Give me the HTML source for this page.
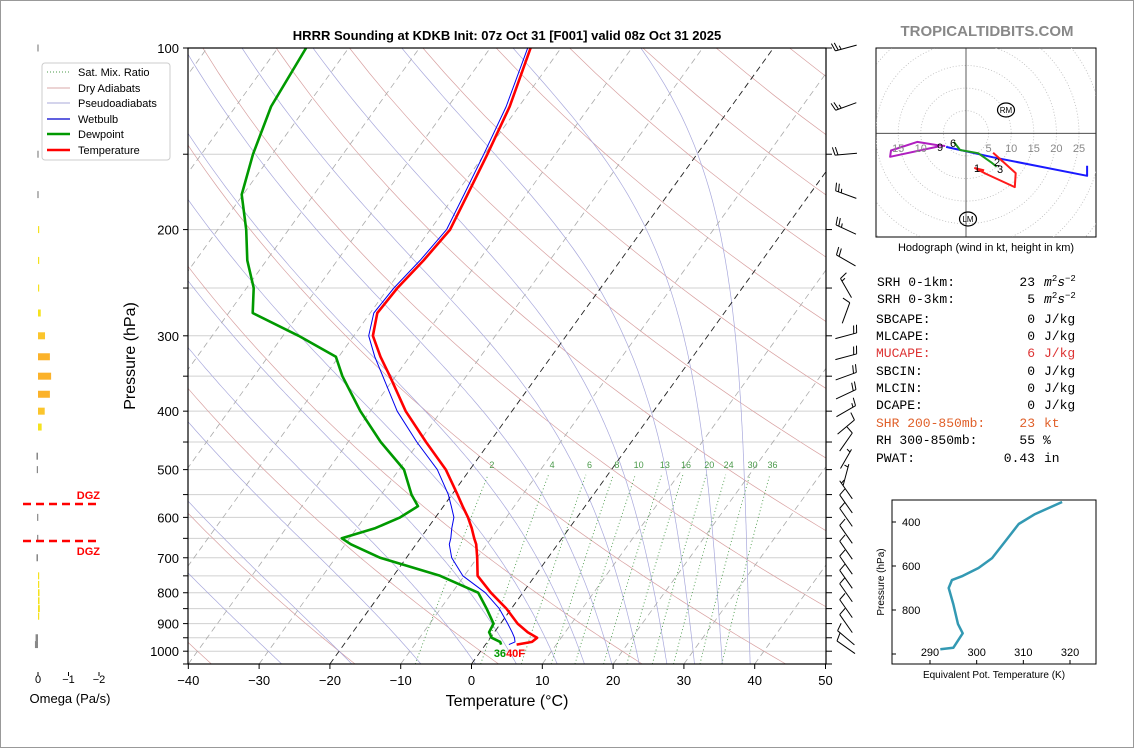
<!DOCTYPE html>
<html><head><meta charset="utf-8">
<style>
html,body{margin:0;padding:0;background:#fff;}
svg{display:block;font-family:"Liberation Sans","DejaVu Sans",sans-serif;}
.mono{font-family:"Liberation Mono","DejaVu Sans Mono",monospace;}
</style></head>
<body>
<svg id="fig" width="1134" height="748" viewBox="0 0 1134 748" xmlns="http://www.w3.org/2000/svg">
<defs>
<clipPath id="plotClip"><rect x="188" y="48" width="638" height="616"/></clipPath>
<clipPath id="hodoClip"><rect x="876" y="48" width="220" height="189"/></clipPath>
</defs>
<rect x="0.5" y="0.5" width="1133" height="747" fill="#fff" stroke="#999"/>
<text x="507" y="40" text-anchor="middle" font-size="13" font-weight="bold">HRRR Sounding at KDKB Init: 07z Oct 31 [F001] valid 08z Oct 31 2025</text>
<text x="987" y="36" text-anchor="middle" font-size="15" font-weight="bold" fill="#888">TROPICALTIDBITS.COM</text>
<g id="bg" clip-path="url(#plotClip)"></g>
<g id="prof" clip-path="url(#plotClip)"></g>
<g id="axes"></g>
<g id="barbs"></g>
<g id="omega"></g>
<g id="hodo"></g>
<g id="theta"></g>

<g>
<rect x="42" y="63" width="128" height="97" rx="3" fill="#fff" stroke="#ccc"/>
<line x1="47" y1="72" x2="70" y2="72" stroke="#4a9a4a" stroke-dasharray="1,2"/>
<text x="78" y="76" font-size="11">Sat. Mix. Ratio</text>
<line x1="47" y1="88" x2="70" y2="88" stroke="#d8aaaa"/>
<text x="78" y="92" font-size="11">Dry Adiabats</text>
<line x1="47" y1="103" x2="70" y2="103" stroke="#aaaad8"/>
<text x="78" y="107" font-size="11">Pseudoadiabats</text>
<line x1="47" y1="119" x2="70" y2="119" stroke="#00c" stroke-width="1.2"/>
<text x="78" y="123" font-size="11">Wetbulb</text>
<line x1="47" y1="134" x2="70" y2="134" stroke="#090" stroke-width="2.5"/>
<text x="78" y="138" font-size="11">Dewpoint</text>
<line x1="47" y1="150" x2="70" y2="150" stroke="#f00" stroke-width="2.5"/>
<text x="78" y="154" font-size="11">Temperature</text>
</g>

<g class="mono" font-size="13">
<text x="877" y="286">SRH 0-1km:</text>
<text x="1035" y="286" text-anchor="end">23</text>
<text x="1044" y="286"><tspan font-style="italic">m</tspan><tspan font-size="9" dy="-5">2</tspan><tspan font-style="italic" dy="5">s</tspan><tspan font-size="9" dy="-5">−2</tspan></text>
<text x="877" y="303">SRH 0-3km:</text>
<text x="1035" y="303" text-anchor="end">5</text>
<text x="1044" y="303"><tspan font-style="italic">m</tspan><tspan font-size="9" dy="-5">2</tspan><tspan font-style="italic" dy="5">s</tspan><tspan font-size="9" dy="-5">−2</tspan></text>
<text x="876" y="323">SBCAPE:</text>
<text x="1035" y="323" text-anchor="end">0</text>
<text x="1044" y="323">J/kg</text>
<text x="876" y="340">MLCAPE:</text>
<text x="1035" y="340" text-anchor="end">0</text>
<text x="1044" y="340">J/kg</text>
<text x="876" y="357" fill="#dd3333">MUCAPE:</text>
<text x="1035" y="357" text-anchor="end" fill="#dd3333">6</text>
<text x="1044" y="357" fill="#dd3333">J/kg</text>
<text x="876" y="375">SBCIN:</text>
<text x="1035" y="375" text-anchor="end">0</text>
<text x="1044" y="375">J/kg</text>
<text x="876" y="392">MLCIN:</text>
<text x="1035" y="392" text-anchor="end">0</text>
<text x="1044" y="392">J/kg</text>
<text x="876" y="409">DCAPE:</text>
<text x="1035" y="409" text-anchor="end">0</text>
<text x="1044" y="409">J/kg</text>
<text x="876" y="427" fill="#e0602a">SHR 200-850mb:</text>
<text x="1035" y="427" text-anchor="end" fill="#e0602a">23</text>
<text x="1044" y="427" fill="#e0602a">kt</text>
<text x="876" y="444">RH 300-850mb:</text>
<text x="1035" y="444" text-anchor="end">55</text>
<text x="1043" y="444">%</text>
<text x="876" y="462">PWAT:</text>
<text x="1035" y="462" text-anchor="end">0.43</text>
<text x="1044" y="462">in</text>
</g>
</svg>

<script>
// ---------- Sounding data ----------
const presLevels = [100,125,150,175,200,225,250,275,300,325,350,400,450,500,550,575,600,625,650,665,700,750,800,850,900,930,950,965,975];
const tempC      = [-54.3,-51.3,-49.6,-48.3,-47.2,-47.8,-48.7,-49.0,-47.3,-44.1,-40.8,-35.0,-29.0,-23.4,-19.2,-17.3,-15.4,-13.8,-12.4,-11.5,-10.0,-8.1,-4.5,-0.7,2.4,4.7,6.6,6.3,4.4];
const dewpC      = [-86,-85,-82.7,-80.2,-76,-72.7,-69,-66.6,-57.8,-50.4,-47.5,-41.4,-35.4,-29.3,-25.7,-23.6,-25,-27.4,-31.1,-29.2,-23.7,-13.4,-6.3,-3.5,-1.0,-0.75,0.2,1.8,2.2];
const wetbulbC   = [-54.7,-51.8,-50.1,-48.8,-47.7,-48.3,-49.2,-49.5,-47.9,-44.9,-41.8,-36.2,-30.3,-24.6,-20.5,-18.9,-17.4,-16.6,-15.7,-15.3,-13.6,-10.2,-5.3,-1.7,1.0,2.5,3.4,3.9,3.3];
// wind barbs (pressure, speed kt, staff angle deg in screen)
const windP   = [100,125,150,175,200,225,250,275,300,325,350,375,400,425,450,480,510,540,570,600,640,680,720,760,800,850,900,950,985];
const windSpd = [25,25,20,25,25,20,15,10,20,20,20,20,15,10,10,5,5,5,10,10,10,10,10,10,10,10,10,10,10];
const windAng = [165,160,175,200,205,210,240,290,-15,-15,-20,-25,-30,-40,-55,-60,-75,235,235,235,235,235,235,235,235,235,235,220,215];
// omega
const omegaP = [100,150,175,200,225,250,275,300,325,350,375,400,425,475,500,600,650,700,750,775,800,825,850,875,950,975];
const omegaV = [0.02,0.02,0.02,-0.02,-0.02,-0.03,-0.09,-0.23,-0.39,-0.43,-0.39,-0.22,-0.12,0.05,0.04,0.03,0.03,0.05,-0.03,-0.04,-0.05,-0.05,-0.06,-0.04,0.08,0.1];
// hodograph (u, v in kt)
const hodoRedU = [6,11,10.8,4.5,2,4];
const hodoRedV = [-4.3,-8.8,-11.9,-9,-7.7,-8.2];
const hodoGreenU = [6.8,5.8,2.7,-1.3,-2.7];
const hodoGreenV = [-7.4,-6.6,-4.4,-3.7,-1.9];
const hodoBlueU = [-4.4,6,26.8,26.8];
const hodoBlueV = [-3,-5.3,-9.4,-7.2];
const hodoMagU = [-4.6,-6.4,-10.8,-16.6,-16.8,-6];
const hodoMagV = [-2.8,-2.6,-1.9,-3.8,-5.2,-2.9];
// theta-e
const thetaP = [978,972,906,864,773,700,664,645,609,564,486,409,364,309];
const thetaE = [292.2,295,297,296,295,294,294.7,297,300.4,303.3,306.2,309,312.5,318.3];
// ticks
const tempTicks = [-40,-30,-20,-10,0,10,20,30,40,50];
const presTicks = [100,200,300,400,500,600,700,800,900,1000];
const mixRatios = [2,4,6,8,10,13,16,20,24,30,36];

// ---------- helpers ----------
const NS='http://www.w3.org/2000/svg';
function mk(parent, tag, attrs){const e=document.createElementNS(NS,tag);for(const k in attrs)e.setAttribute(k,attrs[k]);parent.appendChild(e);return e;}
const yP = p => 48 + 603.2*Math.log10(p/100);
const xT = (t,p) => 471.5 + 7.08*t + 0.72*(664 - yP(p));
const ptsStr = arr => arr.map(a=>a[0].toFixed(1)+','+a[1].toFixed(1)).join(' ');

const bg=document.getElementById('bg');
for(let p=100;p<=1050;p+=50){
  const l=mk(bg,'line',{x1:188,x2:826,y1:yP(p),y2:yP(p),stroke:'#d0d0d0','stroke-width':1});
  
  
}
// dry adiabats
for(let th=-40;th<=220;th+=20){
  const pts=[];
  for(let p=1050;p>=100;p-=10){const T=(th+273.15)*Math.pow(p/1000,0.2857)-273.15;pts.push([xT(T,p),yP(p)]);}
  const l=mk(bg,'polyline',{points:ptsStr(pts),fill:'none',stroke:'#d8a0a0','stroke-width':0.7});
  
  
}
// moist adiabats
function es(t){return 6.112*Math.exp(17.67*t/(t+243.5));}
function dTdp(T,p){const tc=T-273.15;const e=es(tc);const rs=0.622*e/(p-e);const Rd=287,Cp=1005,Lv=2.5e6;
  return (Rd*T+Lv*rs)/(p*(Cp+Lv*Lv*rs*0.622/(Rd*T*T)));}
const moistT0=[-30,-20,-10,-2,4,10,14,18,22,26,30,34,38];
moistT0.forEach(t0=>{
  let T=t0+273.15,p=1000;
  let Td=T,pd=1000;const low=[];
  while(pd<1050){const dp=5;const k1=dTdp(Td,pd);const k2=dTdp(Td+k1*dp,pd+dp);Td+=0.5*(k1+k2)*dp;pd+=dp;low.push([xT(Td-273.15,pd),yP(pd)]);}
  const pts=low.reverse();pts.push([xT(t0,p),yP(p)]);
  while(p>100){const dp=-5;const k1=dTdp(T,p);const k2=dTdp(T+k1*dp,p+dp);T+=0.5*(k1+k2)*dp;p+=dp;pts.push([xT(T-273.15,p),yP(p)]);}
  const l=mk(bg,'polyline',{points:ptsStr(pts),fill:'none',stroke:'#a8a8dc','stroke-width':0.7});
  
  
});
// isotherms
for(let t=-130;t<=50;t+=10){
  const hl=(t===0||t===-20);
  const l=mk(bg,'line',{x1:xT(t,1050),y1:664,x2:xT(t,100),y2:48,stroke:hl?'#222':'#aaa','stroke-width':hl?0.9:0.8,'stroke-dasharray':'6,4'});
  
  
}
// mixing ratio lines
function tdFromW(w,p){const e=(w/1000)*p/(0.622+w/1000);const L=Math.log(e/6.112);return 243.5*L/(17.67-L);}
mixRatios.forEach(w=>{
  const pts=[];
  for(let p=1050;p>=510;p-=10)pts.push([xT(tdFromW(w,p),p),yP(p)]);
  const l=mk(bg,'polyline',{points:ptsStr(pts),fill:'none',stroke:'#4a9a4a','stroke-width':0.9,'stroke-dasharray':'1,2.5'});
  
  
  const tx=mk(bg,'text',{x:xT(tdFromW(w,491),491),y:468,'font-size':9,fill:'#4a9a4a','text-anchor':'middle'});
  tx.textContent=w;
  
  
});

// ---------- profiles ----------
const prof=document.getElementById('prof');
function profile(vals,color,w,name){
  const pts=presLevels.map((p,i)=>[xT(vals[i],p),yP(p)]);
  const l=mk(prof,'polyline',{points:ptsStr(pts),fill:'none',stroke:color,'stroke-width':w,'stroke-linejoin':'round'});
  
  
}
profile(wetbulbC,'#0000ee',1,'wetbulb-line');
profile(dewpC,'#009900',2.6,'dewpoint-line');
profile(tempC,'#ff0000',2.6,'temperature-line');
const n=presLevels.length-1;
const sd=mk(prof,'text',{x:xT(dewpC[n],presLevels[n])+5,y:657,'font-size':11,'font-weight':'bold',fill:'#009900','text-anchor':'end'});
sd.textContent='36';


const st=mk(prof,'text',{x:xT(dewpC[n],presLevels[n])+5,y:657,'font-size':11,'font-weight':'bold',fill:'#ff0000'});
st.textContent='40F';



// ---------- axes ----------
const ax=document.getElementById('axes');
const fr=mk(ax,'rect',{x:188,y:48,width:638,height:616,fill:'none',stroke:'#000','stroke-width':1.2});


tempTicks.forEach(t=>{
  const x=xT(t,1050);
  const tk=mk(ax,'line',{x1:x,x2:x,y1:664,y2:669,stroke:'#000'});
  
  
  const tl=mk(ax,'text',{x:x,y:685,'font-size':13,'text-anchor':'middle'});
  tl.textContent=(t<0?'−':'')+Math.abs(t);
  
  
});
for(let p=100;p<=1050;p+=50){
  const y=yP(p);
  const tk=mk(ax,'line',{x1:183,x2:188,y1:y,y2:y,stroke:'#000'});
  
  
  const tr=mk(ax,'line',{x1:826,x2:832,y1:y,y2:y,stroke:'#000'});
  
  
}
presTicks.forEach(p=>{
  const tl=mk(ax,'text',{x:179,y:yP(p)+5,'font-size':13,'text-anchor':'end'});
  tl.textContent=p;
  
  
});
const xl=mk(ax,'text',{x:507,y:706,'font-size':16,'text-anchor':'middle'});
xl.textContent='Temperature (°C)';


const yl=mk(ax,'text',{x:0,y:0,'font-size':16,'text-anchor':'middle',transform:'translate(135,356) rotate(-90)'});
yl.textContent='Pressure (hPa)';



// ---------- wind barbs ----------
const bb=document.getElementById('barbs');
windP.forEach((p,i)=>{
  const a=windAng[i]*Math.PI/180;const dx=Math.cos(a),dy=Math.sin(a);
  const cx=846,cy=yP(p);
  const x0=cx-dx*11,y0=cy-dy*11,x1=cx+dx*11,y1=cy+dy*11;
  const g=mk(bb,'g',{stroke:'#000','stroke-width':1,fill:'none'});
  
  
  mk(g,'line',{x1:x0,y1:y0,x2:x1,y2:y1});
  let px=-dy,py=dx; if(py>0||(Math.abs(py)<0.01&&px<0)){px=-px;py=-py;}
  let s=windSpd[i];let k=0;
  while(s>=10){const bx=x1-dx*k*3,by=y1-dy*k*3;mk(g,'line',{x1:bx,y1:by,x2:bx+px*8+dx*2,y2:by+py*8+dy*2});s-=10;k++;}
  if(s>=5){if(k===0)k=1;const bx=x1-dx*k*3,by=y1-dy*k*3;mk(g,'line',{x1:bx,y1:by,x2:bx+px*4+dx*1,y2:by+py*4+dy*1});}
});

// ---------- omega panel ----------
const om=document.getElementById('omega');
const oX=v=>38 - v*30.5;
omegaP.forEach((p,i)=>{
  const v=omegaV[i];const x=Math.min(38,oX(v));const w=Math.max(1.2,Math.abs(oX(v)-38));
  let c='#888';
  if(v<0){c=Math.abs(v)<0.15?'#f5e21e':(Math.abs(v)<0.3?'#fbc52c':'#fbb22a');}
  const r=mk(om,'rect',{x:x,y:yP(p)-3.5,width:w,height:7,fill:c});
  
  
});
[0,-1,-2].forEach(v=>{
  const t=mk(om,'line',{x1:oX(v),x2:oX(v),y1:672,y2:676,stroke:'#000'});
  
  
  const l=mk(om,'text',{x:oX(v),y:683,'font-size':11,'text-anchor':'middle'});
  l.textContent=v===0?'0':'−'+Math.abs(v);
  
  
});
const ot=mk(om,'text',{x:70,y:703,'font-size':13,'text-anchor':'middle'});
ot.textContent='Omega (Pa/s)';


[504,541].forEach((y,i)=>{
  const l=mk(om,'line',{x1:23,x2:99,y1:y,y2:y,stroke:'#f00','stroke-width':2.5,'stroke-dasharray':'8,5'});
  
  
  const t=mk(om,'text',{x:100,y:i===0?499:555,'font-size':11,'font-weight':'bold',fill:'#f00','text-anchor':'end'});
  t.textContent='DGZ';
  
  
});

// ---------- hodograph ----------
const hd=document.getElementById('hodo');
const hx=u=>966+u*4.52, hy=v=>133.3-v*4.52;
const hb=mk(hd,'rect',{x:876,y:48,width:220,height:189,fill:'#fff',stroke:'#000'});


const hc=mk(hd,'g',{'clip-path':'url(#hodoClip)'});
for(let r=5;r<=50;r+=5){
  const c=mk(hc,'circle',{cx:966,cy:133.3,r:r*4.52,fill:'none',stroke:'#bbb','stroke-width':0.8,'stroke-dasharray':'1,2'});
  
  
}
const ha=mk(hc,'line',{x1:876,x2:1096,y1:133.3,y2:133.3,stroke:'#333','stroke-width':0.8});


const hv=mk(hc,'line',{x1:966,x2:966,y1:48,y2:237,stroke:'#333','stroke-width':0.8});


[5,10,15,20,25,-10,-15].forEach(r=>{
  const t=mk(hd,'text',{x:hx(r),y:152,'font-size':11,fill:'#888','text-anchor':'middle'});
  t.textContent=Math.abs(r);
  
  
});
function hodoLine(U,V,color,name){
  const l=mk(hc,'polyline',{points:ptsStr(U.map((u,i)=>[hx(u),hy(V[i])])),fill:'none',stroke:color,'stroke-width':2,'stroke-linejoin':'round'});
  
  
}
hodoLine(hodoMagU,hodoMagV,'#b01fc0','hodograph-9-12km');
hodoLine(hodoBlueU,hodoBlueV,'#1a1aff','hodograph-upper');
hodoLine(hodoGreenU,hodoGreenV,'#1a9a1a','hodograph-3-6km');
hodoLine(hodoRedU,hodoRedV,'#ff1a1a','hodograph-0-3km');
[['1',977,172],['2',997,166],['3',1000,173],['6',953,147],['9',940,151]].forEach(a=>{
  const t=mk(hd,'text',{x:a[1],y:a[2],'font-size':11,'text-anchor':'middle'});
  t.textContent=a[0];
  
  
});
[['RM',1006,110],['LM',968,219]].forEach(a=>{
  const e=mk(hd,'ellipse',{cx:a[1],cy:a[2],rx:8.5,ry:7,fill:'none',stroke:'#000','stroke-width':1.2});
  
  
  const t=mk(hd,'text',{x:a[1],y:a[2]+3,'font-size':8,'text-anchor':'middle'});
  t.textContent=a[0];
  
  
});
const hcap=mk(hd,'text',{x:986,y:251,'font-size':11,'text-anchor':'middle'});
hcap.textContent='Hodograph (wind in kt, height in km)';



// ---------- theta-e panel ----------
const th=document.getElementById('theta');
const tx=v=>930+(v-290)*4.667, ty=p=>654+(p-1000)*0.22;
const tb=mk(th,'rect',{x:892,y:500,width:204,height:164,fill:'#fff',stroke:'#000'});


const tl=mk(th,'polyline',{points:ptsStr(thetaP.map((p,i)=>[tx(thetaE[i]),ty(p)])),fill:'none',stroke:'#3399b3','stroke-width':2.5,'stroke-linejoin':'round'});


[400,600,800,1000].forEach(p=>{
  const t=mk(th,'line',{x1:892,x2:896,y1:ty(p),y2:ty(p),stroke:'#000'});
  
  
  if(p<1000){
    const l=mk(th,'text',{x:902,y:ty(p)+4,'font-size':11});
    l.textContent=p;
    
    
  }
});
[290,300,310,320].forEach(v=>{
  const t=mk(th,'line',{x1:tx(v),x2:tx(v),y1:660,y2:664,stroke:'#000'});
  
  
  const l=mk(th,'text',{x:tx(v),y:656,'font-size':11,'text-anchor':'middle'});
  l.textContent=v;
  
  
});
const tyl=mk(th,'text',{x:0,y:0,'font-size':10,'text-anchor':'middle',transform:'translate(884,582) rotate(-90)'});
tyl.textContent='Pressure (hPa)';


const txl=mk(th,'text',{x:994,y:678,'font-size':10,'text-anchor':'middle'});
txl.textContent='Equivalent Pot. Temperature (K)';


</script>
</body></html>
